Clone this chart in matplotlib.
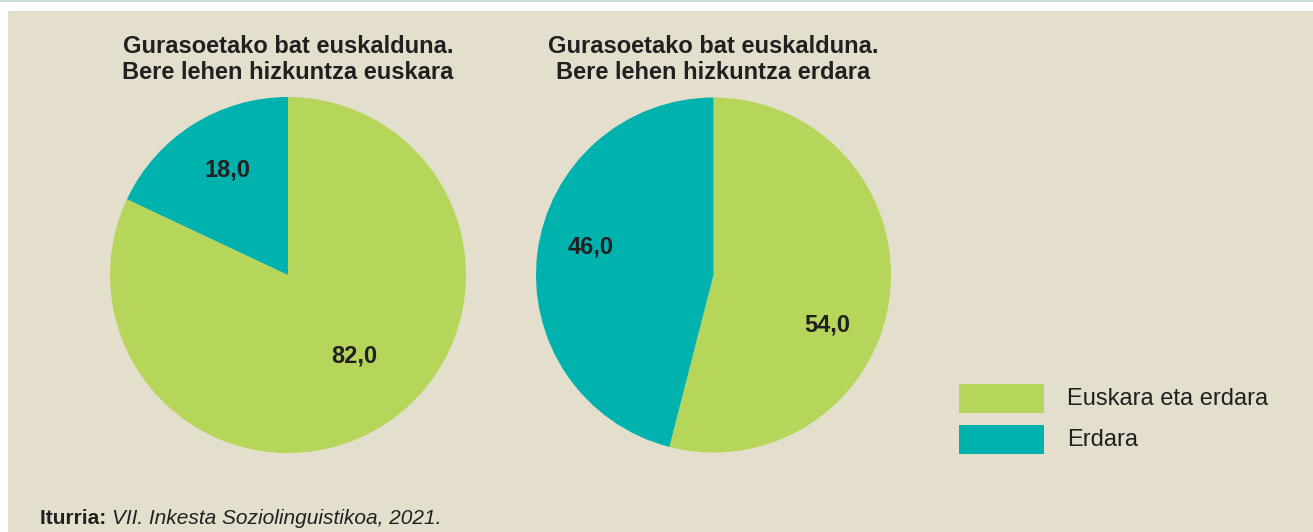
import numpy as np
import matplotlib.pyplot as plt
from matplotlib.patches import Rectangle

plt.rcParams['font.family'] = ['Liberation Sans', 'DejaVu Sans']

W, H = 1313, 532

categories = ['Euskara eta erdara', 'Erdara']
colors = ['#b6d55b', '#00b2ae']

titles = ['Gurasoetako bat euskalduna.\nBere lehen hizkuntza euskara',
          'Gurasoetako bat euskalduna.\nBere lehen hizkuntza erdara']
values_1 = [82.0, 18.0]
values_2 = [54.0, 46.0]
# label spots inside each pie, in pie-radius units
label_pos_1 = [(0.37, -0.455), (-0.34, 0.59)]
label_pos_2 = [(0.64, -0.28), (-0.69, 0.16)]

source_bold = 'Iturria:'
source_text = 'VII. Inkesta Soziolinguistikoa, 2021.'

bg = '#e4dfcc'
txt = '#231f20'

fig = plt.figure(figsize=(W / 100, H / 100), dpi=100)
fig.patch.set_facecolor('white')

# background panel and top rule
fig.patches.append(Rectangle((8 / W, 0), 1, (H - 11) / H, transform=fig.transFigure,
                             facecolor=bg, edgecolor='none', zorder=-2))
fig.patches.append(Rectangle((0, (H - 2) / H), 1, 2 / H, transform=fig.transFigure,
                             facecolor='#c8dcd8', edgecolor='none', zorder=-2))


def draw_pie(cx, cy, r, vals, lpos, title):
    ax = fig.add_axes([(cx - r) / W, (H - cy - r) / H, 2 * r / W, 2 * r / H])
    ax.pie(vals, colors=colors, startangle=90, counterclock=False, radius=1,
           wedgeprops=dict(linewidth=0))
    for v, (x, y) in zip(vals, lpos):
        ax.text(x, y, f'{v:.1f}'.replace('.', ','), ha='center', va='center',
                fontsize=17, fontweight='bold', color=txt)
    ax.set_xlim(-1, 1)
    ax.set_ylim(-1, 1)
    ax.set_aspect('auto')
    ax.axis('off')
    fig.text(cx / W, (H - 59.5) / H, title, ha='center', va='center',
             fontsize=17, fontweight='bold', color=txt, linespacing=1.2)


draw_pie(288, 275, 178, values_1, label_pos_1, titles[0])
draw_pie(713.5, 275, 177.5, values_2, label_pos_2, titles[1])

# legend
for i, (c, lab) in enumerate(zip(colors, categories)):
    y0 = 384 + i * 41
    fig.patches.append(Rectangle((959 / W, (H - y0 - 29) / H), 85 / W, 29 / H,
                                 transform=fig.transFigure, facecolor=c,
                                 edgecolor='none'))
    fig.text(1067 / W, (H - y0 - 15) / H, lab, ha='left', va='center',
             fontsize=17, color=txt)

# source
t = fig.text(40 / W, (H - 518) / H, source_bold + ' ', ha='left', va='center',
             fontsize=15, fontweight='bold', color=txt)
fig.canvas.draw()
bb = t.get_window_extent()
fig.text(bb.x1 / W, (H - 518) / H, source_text, ha='left', va='center',
         fontsize=15, style='italic', color=txt)

fig.savefig('out.png', dpi=100, facecolor=fig.get_facecolor())
